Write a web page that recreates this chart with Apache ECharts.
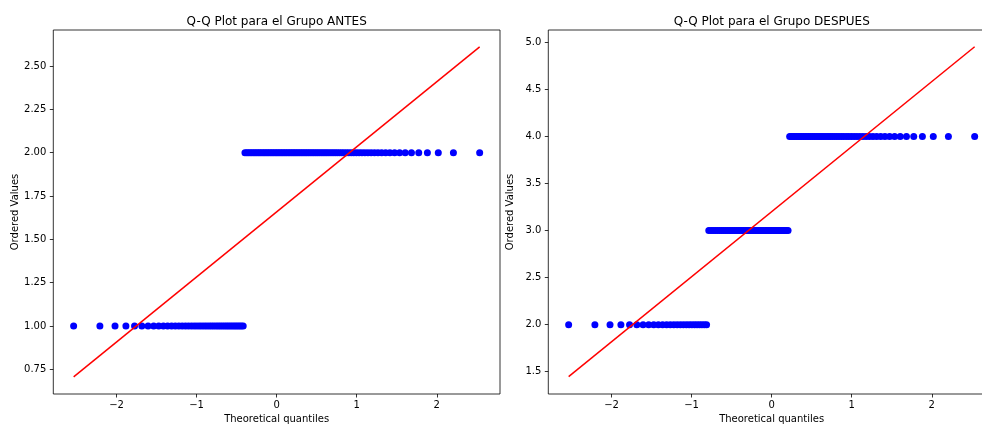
<!DOCTYPE html>
<html>
<head>
<meta charset="utf-8">
<script src="https://cdn.jsdelivr.net/npm/echarts@6/dist/echarts.min.js"></script>
<style>html,body{margin:0;padding:0;background:#fff;}#chart{width:982px;height:424px;}</style>
</head>
<body>
<div id="chart"></div>
<script>
// Theoretical quantiles (x positions, shared by both groups)
const quantiles = [
-2.536,-2.208,-2.019,-1.883,-1.775,-1.684,-1.606,-1.536,-1.473,-1.415,
-1.362,-1.312,-1.266,-1.222,-1.180,-1.140,-1.102,-1.065,-1.030,-0.996,
-0.963,-0.932,-0.901,-0.871,-0.841,-0.813,-0.785,-0.757,-0.731,-0.705,
-0.679,-0.653,-0.628,-0.604,-0.580,-0.556,-0.532,-0.509,-0.486,-0.463,
-0.441,-0.418,-0.396,-0.374,-0.353,-0.331,-0.310,-0.288,-0.267,-0.246,
-0.225,-0.205,-0.184,-0.163,-0.143,-0.122,-0.102,-0.081,-0.061,-0.041,
-0.020,0.000,
0.020,0.041,0.061,0.081,0.102,0.122,0.143,0.163,0.184,0.205,
0.225,0.246,0.267,0.288,0.310,0.331,0.353,0.374,0.396,0.418,
0.441,0.463,0.486,0.509,0.532,0.556,0.580,0.604,0.628,0.653,
0.679,0.705,0.731,0.757,0.785,0.813,0.841,0.871,0.901,0.932,
0.963,0.996,1.030,1.065,1.102,1.140,1.180,1.222,1.266,1.312,
1.362,1.415,1.473,1.536,1.606,1.684,1.775,1.883,2.019,2.208,
2.536
];

// Ordered values, group ANTES (42 x 1, 81 x 2)
const antesValues = [
1,1,1,1,1,1,1,1,1,1,
1,1,1,1,1,1,1,1,1,1,
1,1,1,1,1,1,1,1,1,1,
1,1,1,1,1,1,1,1,1,1,
1,1,
2,2,2,2,2,2,2,2,2,2,
2,2,2,2,2,2,2,2,2,2,
2,2,2,2,2,2,2,2,2,2,
2,2,2,2,2,2,2,2,2,2,
2,2,2,2,2,2,2,2,2,2,
2,2,2,2,2,2,2,2,2,2,
2,2,2,2,2,2,2,2,2,2,
2,2,2,2,2,2,2,2,2,2,
2
];

// Ordered values, group DESPUES (26 x 2, 46 x 3, 51 x 4)
const despuesValues = [
2,2,2,2,2,2,2,2,2,2,
2,2,2,2,2,2,2,2,2,2,
2,2,2,2,2,2,
3,3,3,3,3,3,3,3,3,3,
3,3,3,3,3,3,3,3,3,3,
3,3,3,3,3,3,3,3,3,3,
3,3,3,3,3,3,3,3,3,3,
3,3,3,3,3,3,
4,4,4,4,4,4,4,4,4,4,
4,4,4,4,4,4,4,4,4,4,
4,4,4,4,4,4,4,4,4,4,
4,4,4,4,4,4,4,4,4,4,
4,4,4,4,4,4,4,4,4,4,
4
];

// Fitted lines (endpoints)
const antesFitX = [-2.536, 2.536];
const antesFitY = [0.707, 2.611];
const despuesFitX = [-2.536, 2.536];
const despuesFitY = [1.447, 4.953];

// Tick labels
const xTicks = [-2, -1, 0, 1, 2];
const antesYTicks = [0.75, 1.00, 1.25, 1.50, 1.75, 2.00, 2.25, 2.50];
const despuesYTicks = [1.5, 2.0, 2.5, 3.0, 3.5, 4.0, 4.5, 5.0];

const titles = ['Q-Q Plot para el Grupo ANTES', 'Q-Q Plot para el Grupo DESPUES'];
const xName = 'Theoretical quantiles';
const yName = 'Ordered Values';

const FONT = 'DejaVu Sans';
const pairs = (xs, ys) => xs.map((x, i) => [x, ys[i]]);

function xAxisCfg(gi) {
  return {
    gridIndex: gi, type: 'value', min: -2.79, max: 2.79,
    name: xName, nameLocation: 'middle', nameGap: 20,
    nameTextStyle: { fontFamily: FONT, fontSize: 10, color: '#000' },
    axisLine: { show: false, onZero: false },
    axisTick: { show: true, customValues: xTicks, length: 3.5, lineStyle: { color: '#000', width: 0.8 } },
    axisLabel: { customValues: xTicks, margin: 6, fontFamily: FONT, fontSize: 10, color: '#000',
      formatter: v => String(v).replace('-', '\u2212') },
    splitLine: { show: false }
  };
}
function yAxisCfg(gi, min, max, ticks, dec) {
  return {
    gridIndex: gi, type: 'value', min: min, max: max,
    name: yName, nameLocation: 'middle', nameGap: 33,
    nameTextStyle: { fontFamily: FONT, fontSize: 10, color: '#000' },
    axisLine: { show: false, onZero: false },
    axisTick: { show: true, customValues: ticks, length: 3.5, lineStyle: { color: '#000', width: 0.8 } },
    axisLabel: { customValues: ticks, margin: 7, fontFamily: FONT, fontSize: 10, color: '#000',
      formatter: v => Number(v).toFixed(dec) },
    splitLine: { show: false }
  };
}

const chart = echarts.init(document.getElementById('chart'), null, { renderer: 'canvas' });
chart.setOption({
  animation: false,
  backgroundColor: '#fff',
  title: [
    { text: titles[0], left: 276.7, top: 16, textAlign: 'center', padding: 0,
      textStyle: { fontFamily: FONT, fontSize: 12, fontWeight: 'normal', color: '#000' } },
    { text: titles[1], left: 771.7, top: 16, textAlign: 'center', padding: 0,
      textStyle: { fontFamily: FONT, fontSize: 12, fontWeight: 'normal', color: '#000' } }
  ],
  grid: [
    { left: 53.3, top: 30, width: 446.7, height: 364, show: true, borderColor: '#000', borderWidth: 0.8,
      backgroundColor: 'transparent', containLabel: false, outerBoundsMode: 'none' },
    { left: 548.3, top: 30, width: 446.7, height: 364, show: true, borderColor: '#000', borderWidth: 0.8,
      backgroundColor: 'transparent', containLabel: false, outerBoundsMode: 'none' }
  ],
  xAxis: [xAxisCfg(0), xAxisCfg(1)],
  yAxis: [
    yAxisCfg(0, 0.608, 2.708, antesYTicks, 2),
    yAxisCfg(1, 1.263, 5.131, despuesYTicks, 1)
  ],
  series: [
    { type: 'scatter', xAxisIndex: 0, yAxisIndex: 0, data: pairs(quantiles, antesValues),
      symbol: 'circle', symbolSize: 7, itemStyle: { color: '#0000ff', opacity: 1 }, z: 2 },
    { type: 'line', xAxisIndex: 0, yAxisIndex: 0, data: pairs(antesFitX, antesFitY),
      symbol: 'none', lineStyle: { color: '#ff0000', width: 1.5 }, z: 3 },
    { type: 'scatter', xAxisIndex: 1, yAxisIndex: 1, data: pairs(quantiles, despuesValues),
      symbol: 'circle', symbolSize: 7, itemStyle: { color: '#0000ff', opacity: 1 }, z: 2 },
    { type: 'line', xAxisIndex: 1, yAxisIndex: 1, data: pairs(despuesFitX, despuesFitY),
      symbol: 'none', lineStyle: { color: '#ff0000', width: 1.5 }, z: 3 }
  ]
});
</script>
</body>
</html>
